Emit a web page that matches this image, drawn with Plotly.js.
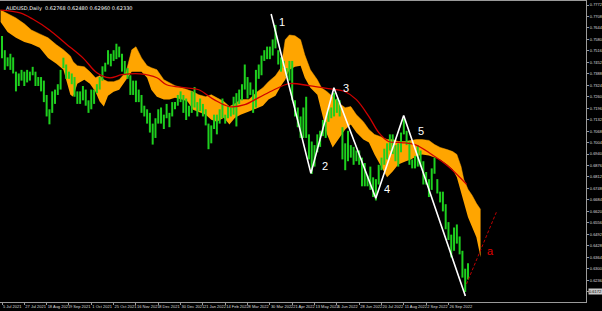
<!DOCTYPE html>
<html><head><meta charset="utf-8">
<script src="https://cdn.plot.ly/plotly-3.0.1.min.js"></script>
<style>html,body{margin:0;padding:0;background:#000;}#c{width:602px;height:311px;}</style>
</head><body><div id="c"></div>
<script>
// ---- data (AUDUSD daily) ----
const titleText = "AUDUSD,Daily  0.62768 0.62480 0.62960 0.62330";
const dateLabels = ["5 Jul 2021","27 Jul 2021","18 Aug 2021","9 Sep 2021","1 Oct 2021","25 Oct 2021","16 Nov 2021","8 Dec 2021","30 Dec 2021","21 Jan 2022","14 Feb 2022","8 Mar 2022","30 Mar 2022","21 Apr 2022","13 May 2022","6 Jun 2022","28 Jun 2022","20 Jul 2022","11 Aug 2022","2 Sep 2022","26 Sep 2022"];
const dateLabelBars = [0,16,32,48,64,80,96,112,128,144,160,176,192,208,224,240,256,272,288,304,320];
const priceTicks = [0.7772,0.7708,0.7644,0.7580,0.7516,0.7452,0.7388,0.7324,0.7260,0.7196,0.7132,0.7068,0.7004,0.6940,0.6876,0.6812,0.6748,0.6684,0.6620,0.6556,0.6492,0.6428,0.6364,0.6300,0.6236,0.6172];
const currentPrice = 0.6172;

// two-day bars: lows and highs
const barLow = [0.7475,0.7410,0.7430,0.7410,0.7390,0.7290,0.7320,0.7350,0.7320,0.7340,0.7350,0.7380,0.7320,0.7320,0.7290,0.7230,0.7150,0.7106,0.7170,0.7220,
0.7270,0.7300,0.7420,0.7360,0.7360,0.7330,0.7260,0.7220,0.7220,0.7240,0.7210,0.7170,0.7190,0.7220,0.7280,0.7300,0.7350,0.7400,0.7440,0.7430,
0.7460,0.7470,0.7480,0.7400,0.7380,0.7360,0.7270,0.7270,0.7230,0.7230,0.7170,0.7150,0.7110,0.7060,0.6993,0.7030,0.7110,0.7110,0.7080,0.7140,
0.7090,0.7150,0.7190,0.7210,0.7230,0.7170,0.7130,0.7150,0.7170,0.7200,0.7150,0.7180,0.7150,0.7100,0.6967,0.7000,0.7080,0.7050,0.7110,0.7140,
0.7110,0.7140,0.7150,0.7160,0.7094,0.7220,0.7240,0.7300,0.7250,0.7270,0.7170,0.7200,0.7360,0.7380,0.7460,0.7470,0.7470,0.7490,0.7530,0.7440,
0.7400,0.7420,0.7370,0.7350,0.7240,0.7150,0.7090,0.7030,0.7030,0.7030,0.6910,0.6829,0.6870,0.6950,0.6980,0.7040,0.7030,0.7120,0.7140,0.7150,
0.7170,0.7150,0.6910,0.6850,0.6900,0.6920,0.6880,0.6900,0.6880,0.6760,0.6760,0.6760,0.6740,0.6700,0.6681,0.6770,0.6850,0.6880,0.6910,0.6960,
0.6940,0.6900,0.6870,0.6950,0.7050,0.6990,0.6880,0.6860,0.6860,0.6870,0.6870,0.6770,0.6770,0.6700,0.6740,0.6830,0.6720,0.6670,0.6620,0.6520,
0.6460,0.6363,0.6400,0.6440,0.6380,0.6250,0.6170,0.6240];
const barHigh = [0.7599,0.7520,0.7480,0.7500,0.7480,0.7400,0.7390,0.7410,0.7400,0.7410,0.7400,0.7427,0.7400,0.7370,0.7370,0.7350,0.7270,0.7190,0.7290,0.7300,
0.7330,0.7410,0.7478,0.7440,0.7400,0.7390,0.7370,0.7290,0.7290,0.7320,0.7300,0.7240,0.7300,0.7300,0.7330,0.7370,0.7430,0.7450,0.7520,0.7500,
0.7520,0.7556,0.7540,0.7500,0.7460,0.7420,0.7380,0.7350,0.7350,0.7300,0.7270,0.7210,0.7190,0.7170,0.7110,0.7140,0.7190,0.7200,0.7160,0.7220,
0.7170,0.7230,0.7230,0.7270,0.7290,0.7270,0.7250,0.7210,0.7290,0.7314,0.7230,0.7250,0.7220,0.7190,0.7110,0.7100,0.7160,0.7160,0.7190,0.7250,
0.7160,0.7210,0.7200,0.7260,0.7280,0.7300,0.7330,0.7440,0.7370,0.7340,0.7300,0.7410,0.7440,0.7490,0.7520,0.7540,0.7540,0.7580,0.7661,0.7520,
0.7480,0.7460,0.7420,0.7460,0.7460,0.7240,0.7200,0.7150,0.7200,0.7260,0.7050,0.7010,0.6990,0.7050,0.7070,0.7130,0.7120,0.7190,0.7200,0.7283,
0.7250,0.7240,0.7090,0.7000,0.7070,0.6990,0.6980,0.6960,0.6960,0.6920,0.6890,0.6820,0.6870,0.6810,0.6800,0.6880,0.6920,0.6970,0.7000,0.7050,
0.7050,0.6990,0.7000,0.7060,0.7137,0.7070,0.7010,0.6910,0.6930,0.6990,0.6960,0.6900,0.6840,0.6800,0.6860,0.6920,0.6800,0.6730,0.6730,0.6660,
0.6560,0.6490,0.6530,0.6547,0.6480,0.6400,0.6300,0.6330];

// Ichimoku cloud edges
const cloudBar = [-1,4,10,16,21,27,33,39,44,49,51,54,59,63,67,70,73,76,80,84,89,93,96,100,104,107,111,116,120,124,129,133,137,141,146,150,154,159,163,167,171,177,183,187,191,196,200,203,206,210,214,217,221,226,229,233,237,241,246,250,254,259,263,267,271,276,280,284,289,293,297,301,306,310,314,319,323,326,329,331,334,337,340,343];
const cloudTop = [0.7744,0.7722,0.7700,0.7667,0.7633,0.7611,0.7589,0.7550,0.7522,0.7488,0.7455,0.7433,0.7427,0.7399,0.7366,0.7377,0.7355,0.7344,0.7344,0.7355,0.7399,0.7522,0.7539,0.7477,0.7433,0.7422,0.7411,0.7355,0.7338,0.7322,0.7310,0.7299,0.7288,0.7271,0.7260,0.7271,0.7255,0.7233,0.7205,0.7221,0.7244,0.7244,0.7288,0.7310,0.7344,0.7377,0.7422,0.7578,0.7605,0.7600,0.7578,0.7494,0.7411,0.7355,0.7310,0.7288,0.7260,0.7227,0.7199,0.7205,0.7160,0.7121,0.7077,0.7049,0.7038,0.7021,0.7021,0.7010,0.7010,0.7016,0.7021,0.7021,0.7016,0.6993,0.6977,0.6965,0.6954,0.6938,0.6871,0.6798,0.6743,0.6709,0.6665,0.6631];
const cloudBot = [0.7678,0.7622,0.7589,0.7566,0.7555,0.7533,0.7477,0.7444,0.7411,0.7271,0.7260,0.7333,0.7355,0.7333,0.7288,0.7233,0.7205,0.7266,0.7288,0.7299,0.7355,0.7399,0.7399,0.7399,0.7366,0.7299,0.7260,0.7244,0.7244,0.7255,0.7244,0.7233,0.7188,0.7177,0.7160,0.7132,0.7121,0.7143,0.7105,0.7143,0.7160,0.7177,0.7199,0.7210,0.7244,0.7266,0.7322,0.7355,0.7411,0.7427,0.7433,0.7366,0.7310,0.7271,0.7177,0.7049,0.6977,0.7021,0.7077,0.7105,0.7060,0.7021,0.7004,0.6938,0.6882,0.6810,0.6843,0.6882,0.6899,0.6910,0.6926,0.6938,0.6932,0.6921,0.6910,0.6882,0.6854,0.6810,0.6726,0.6659,0.6587,0.6532,0.6476,0.6364];

// moving average (red)
const maBar = [-1,13,22,34,46,58,68,77,86,99,111,118,132,141,152,163,174,184,195,206,220,234,246,254,263,270,277,286,296,308,320,333];
const maVal = [0.7744,0.7728,0.7694,0.7633,0.7555,0.7477,0.7394,0.7366,0.7383,0.7388,0.7366,0.7327,0.7310,0.7299,0.7244,0.7205,0.7216,0.7255,0.7299,0.7333,0.7322,0.7305,0.7288,0.7244,0.7149,0.7060,0.7010,0.7004,0.6993,0.6938,0.6871,0.6771];

// Elliott wave zigzag and labels
const waveBar = [192.9,221.4,237.9,267.9,287.9,332.1];
const wavePrice = [0.7722,0.6832,0.7310,0.6693,0.7155,0.6147];
const waveLabels = ["1","2","3","4","5"];
const waveLabelBar = [200.7,231.4,246.4,275.7,300.0];
const waveLabelPrice = [0.7678,0.6876,0.7310,0.6743,0.7071];
const projBar = [332.9,354.3];
const projPrice = [0.6214,0.6615];
const projLabel = "a";
const projLabelBar = 350;
const projLabelPrice = 0.6398;

// ---- build traces ----
const bx = [], by = [];
barLow.forEach((lo, k) => { bx.push(2*k, 2*k, null); by.push(lo, barHigh[k], null); });

const traces = [
  {x: cloudBar, y: cloudBot, type:'scatter', mode:'lines', line:{width:0, color:'#FFA500'}, hoverinfo:'skip'},
  {x: cloudBar, y: cloudTop, type:'scatter', mode:'lines', line:{width:0.5, color:'#FFA500'}, fill:'tonexty', fillcolor:'#FFA500', hoverinfo:'skip'},
  {x: bx, y: by, type:'scatter', mode:'lines', line:{width:2, color:'#1ed01e'}, hoverinfo:'skip'},
  {x: maBar, y: maVal, type:'scatter', mode:'lines', line:{width:1.3, color:'#d00000', shape:'spline'}, hoverinfo:'skip'},
  {x: waveBar, y: wavePrice, type:'scatter', mode:'lines', line:{width:1.6, color:'#ffffff'}, hoverinfo:'skip'},
  {x: projBar, y: projPrice, type:'scatter', mode:'lines', line:{width:1, color:'#c00000', dash:'3px,2px'}, hoverinfo:'skip'}
];

const ann = waveLabels.map((t, k) => ({x: waveLabelBar[k], y: waveLabelPrice[k], xref:'x', yref:'y', text:t, showarrow:false, font:{family:'Liberation Sans, Arial', size:11, color:'#ffffff'}}));
ann.push({x: projLabelBar, y: projLabelPrice, xref:'x', yref:'y', text: projLabel, showarrow:false, font:{family:'Liberation Sans, Arial', size:11, color:'#e00000'}});
ann.push({x: 0.006, y: 0.995, xref:'paper', yref:'paper', xanchor:'left', yanchor:'top', text: titleText, showarrow:false, font:{family:'DejaVu Sans', size:5, color:'#ffffff'}});
ann.push({x: 1, y: currentPrice, xref:'paper', yref:'y', xanchor:'left', xshift:2, text: currentPrice.toFixed(4), showarrow:false, bgcolor:'#c8c8c8', borderpad:0, font:{family:'Liberation Sans', size:4, color:'#000000'}});

const layout = {
  width: 602, height: 311,
  margin: {l:0, r:16, t:1, b:9, pad:0},
  paper_bgcolor:'#000000', plot_bgcolor:'#000000',
  showlegend:false,
  xaxis: {range:[-1.43, 418.57], showgrid:false, zeroline:false, showline:true, mirror:true, linecolor:'#9a9a9a', linewidth:1,
          tickmode:'array', tickvals: dateLabelBars, ticktext: dateLabels, ticks:'outside', ticklen:2, tickcolor:'#9a9a9a', tickangle:0,
          ticklabelposition:'outside right', tickfont:{family:'Liberation Sans', size:4, color:'#dddddd'}},
  yaxis: {range:[0.61140, 0.77946], side:'right', showgrid:false, zeroline:false, showline:true, linecolor:'#9a9a9a', linewidth:1,
          tickmode:'array', tickvals: priceTicks, tickformat:'.4f', ticks:'outside', ticklen:2, tickcolor:'#9a9a9a',
          tickfont:{family:'Liberation Sans', size:4, color:'#dddddd'}},
  annotations: ann
};
Plotly.newPlot('c', traces, layout, {staticPlot:true, displayModeBar:false});
</script></body></html>
